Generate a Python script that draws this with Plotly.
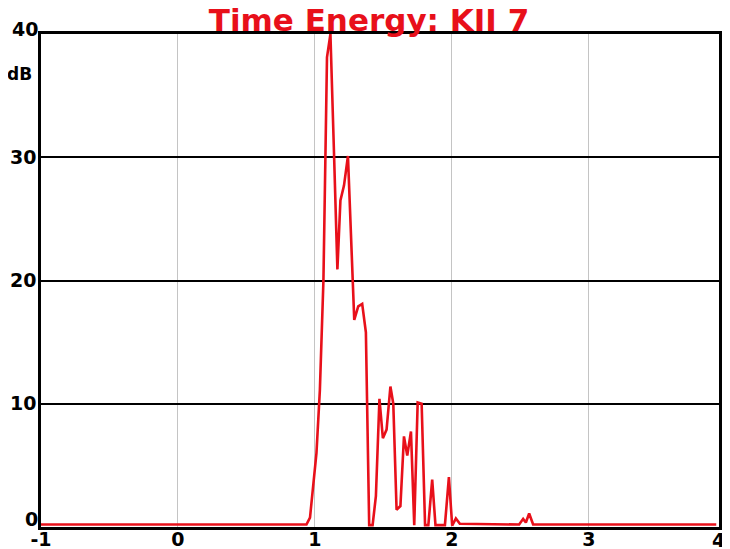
import plotly.graph_objects as go

# Time (ms) and level (dB)
time_ms = [-1.0, 0.938, 0.964, 1.011, 1.036, 1.062, 1.088, 1.113, 1.139, 1.164,
           1.186, 1.212, 1.241, 1.287, 1.316, 1.345, 1.372, 1.396, 1.421, 1.445,
           1.471, 1.496, 1.523, 1.551, 1.572, 1.596, 1.624, 1.650, 1.674, 1.701,
           1.725, 1.750, 1.779, 1.804, 1.828, 1.856, 1.880, 1.949, 1.978, 2.002,
           2.029, 2.058, 2.491, 2.520, 2.540, 2.564, 2.593, 3.93]
level_db = [0.2, 0.2, 0.77, 6.0, 11.1, 20.0, 38.1, 40.0, 30.4, 20.9,
            26.5, 27.7, 30.1, 16.8, 17.9, 18.1, 15.8, 0.15, 0.15, 2.5,
            10.4, 7.2, 7.9, 11.4, 10.0, 1.4, 1.7, 7.35, 5.8, 7.75,
            0.15, 10.1, 10.0, 0.15, 0.15, 3.85, 0.15, 0.15, 4.05, 0.1,
            0.7, 0.26, 0.2, 0.66, 0.36, 1.1, 0.2, 0.2]

x_ticks = [-1, 0, 1, 2, 3]
x_tick_text = ["-1", "0", "1", "2", "3"]
x_extra_tick = "4"
x_range = [-1, 3.95]
y_ticks = [0, 10, 20, 30, 40]
y_tick_text = ["0", "10", "20", "30", "40"]
y_range = [0, 40]

title_text = "Time Energy: KII 7"
y_unit = "dB"

FONT = "DejaVu Sans"
RED = "#e8101a"
TICKFONT = dict(family=FONT, size=19, color="black", weight="bold")

fig = go.Figure()
fig.add_trace(go.Scatter(x=time_ms, y=level_db, mode="lines",
                         line=dict(color=RED, width=2.6), cliponaxis=True,
                         showlegend=False, hoverinfo="skip"))

# End labels of the y axis sit slightly inside the range in the reference,
# so they are drawn as annotations; the inner ones are normal tick labels.
inner_text = [t if 0 < i < len(y_ticks) - 1 else "" for i, t in enumerate(y_tick_text)]
end_shift = {0: 8, len(y_ticks) - 1: 5}
annotations = [
    dict(text=y_tick_text[i], xref="paper", yref="y", x=0, y=y_ticks[i],
         xanchor="right", yanchor="middle", xshift=-1, yshift=s, showarrow=False,
         font=TICKFONT)
    for i, s in end_shift.items()
]
annotations += [
    dict(text=y_unit, xref="paper", yref="paper",
         x=-0.031, y=0.918, xanchor="center", yanchor="middle", showarrow=False,
         font=dict(family=FONT, size=17, color="black", weight="bold")),
    dict(text=x_extra_tick, xref="paper", yref="paper",
         x=1.0125, y=0, xanchor="right", yanchor="top", yshift=0, showarrow=False,
         font=TICKFONT),
]

# The page body adds an 8 px offset, so the figure is sized to end at the window edge.
fig.update_layout(
    width=722, height=541,
    margin=dict(l=33, r=11, t=26, b=22, pad=0),
    paper_bgcolor="white", plot_bgcolor="white",
    title=dict(text=title_text, x=0.5, xanchor="center", y=0.997, yanchor="top",
               automargin=False, pad=dict(t=0, b=0),
               font=dict(family=FONT, size=31, color=RED, weight="bold")),
    xaxis=dict(range=x_range, tickmode="array", tickvals=x_ticks, ticktext=x_tick_text,
               automargin=False,
               showgrid=True, gridcolor="#c4c4c4", gridwidth=1, zeroline=False,
               showline=True, linecolor="black", linewidth=2.5, mirror=True,
               ticks="", ticklen=0, ticklabelstandoff=-7, tickfont=TICKFONT),
    yaxis=dict(range=y_range, tickmode="array", tickvals=y_ticks, ticktext=inner_text,
               automargin=False,
               showgrid=True, gridcolor="black", gridwidth=2, zeroline=False,
               showline=True, linecolor="black", linewidth=2.5, mirror=True,
               ticks="", ticklen=0, ticklabelstandoff=-2, tickfont=TICKFONT),
    annotations=annotations,
)

fig.write_html("out.html")
